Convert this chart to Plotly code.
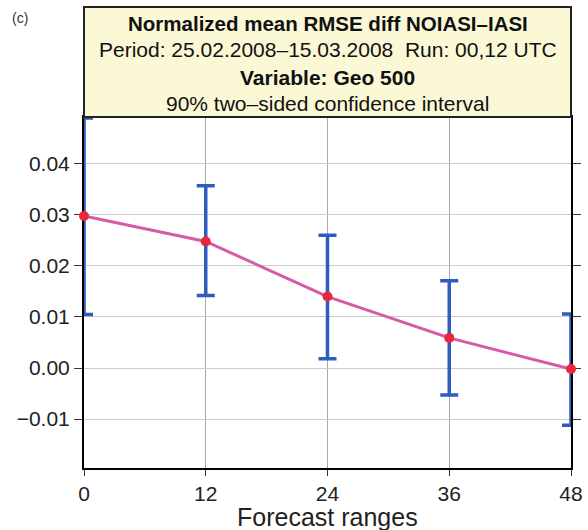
import plotly.graph_objects as go

forecast_ranges = [0, 12, 24, 36, 48]
mean_diff = [0.0298, 0.0248, 0.0140, 0.0059, -0.0002]
ci_upper = [0.0490, 0.0357, 0.0260, 0.0171, 0.0106]
ci_lower = [0.0105, 0.0142, 0.0018, -0.0053, -0.0112]

err_plus = [u - m for u, m in zip(ci_upper, mean_diff)]
err_minus = [m - l for m, l in zip(mean_diff, ci_lower)]

title_lines = [
    ("<b>Normalized mean RMSE diff NOIASI\u2013IASI</b>", 23, 20.5),
    ("Period: 25.02.2008\u201315.03.2008  Run: 00,12 UTC", 50, 21),
    ("<b>Variable: Geo 500</b>", 77, 21),
    ("90% two\u2013sided confidence interval", 103, 21),
]

FONT = "Liberation Sans, Arial, sans-serif"
W, H = 588, 530
L, R, T, B = 84, 17, 117, 62
ph = H - T - B
pw = W - L - R

def py(ypx):
    return (H - B - ypx) / ph

fig = go.Figure()
fig.add_trace(go.Scatter(
    x=forecast_ranges, y=mean_diff, mode="lines+markers",
    line=dict(color="#d65aa8", width=3),
    marker=dict(color="#e8283c", size=10),
    error_y=dict(type="data", symmetric=False, array=err_plus, arrayminus=err_minus,
                 color="#2f5cc0", thickness=3.5, width=9),
    cliponaxis=False, showlegend=False,
))

fig.add_hline(y=0, line=dict(color="black", width=2), layer="below")

shapes = [dict(type="rect", xref="paper", yref="paper", x0=0, x1=1, y0=1, y1=py(7),
               fillcolor="#fbf8d6", line=dict(color="#222", width=2), layer="above")]
annotations = []
for txt, ypx, fs in title_lines:
    annotations.append(dict(text=txt, xref="paper", yref="paper", x=0.5, y=py(ypx),
                            xanchor="center", yanchor="middle", showarrow=False,
                            font=dict(family=FONT, size=fs, color="#111")))
annotations.append(dict(text="(c)", xref="paper", yref="paper", x=(10 - L) / pw, y=py(18),
                        xanchor="left", yanchor="middle", showarrow=False,
                        font=dict(family=FONT, size=14, color="#333")))
annotations.append(dict(text="Forecast ranges", xref="paper", yref="paper", x=0.5, y=py(533),
                        xanchor="center", yanchor="bottom", showarrow=False,
                        font=dict(family=FONT, size=25, color="#222")))

fig.update_layout(
    width=W, height=H, margin=dict(l=L, r=R, t=T, b=B, autoexpand=False),
    paper_bgcolor="white", plot_bgcolor="white",
    font=dict(family=FONT, size=21, color="#222"),
    shapes=shapes, annotations=annotations,
    xaxis=dict(range=[0, 48], tickvals=forecast_ranges, ticks="outside", ticklen=6,
               tickcolor="#333", showgrid=True, gridcolor="#a8a8a8", gridwidth=1,
               showline=True, linecolor="black", linewidth=2, mirror=True,
               zeroline=False, tickfont=dict(size=21), automargin=False,
               layer="below traces"),
    yaxis=dict(range=[-0.0196, 0.0492], dtick=0.01, tick0=0, tickformat=".2f",
               ticks="outside", ticklen=8, tickcolor="#333",
               showgrid=True, gridcolor="#cccccc", gridwidth=1,
               showline=True, linecolor="black", linewidth=2, mirror="ticks",
               zeroline=False, tickfont=dict(size=21), automargin=False,
               layer="below traces"),
)

fig.write_html("out.html", config={"displayModeBar": False},
               post_script="document.body.style.margin='0';")
